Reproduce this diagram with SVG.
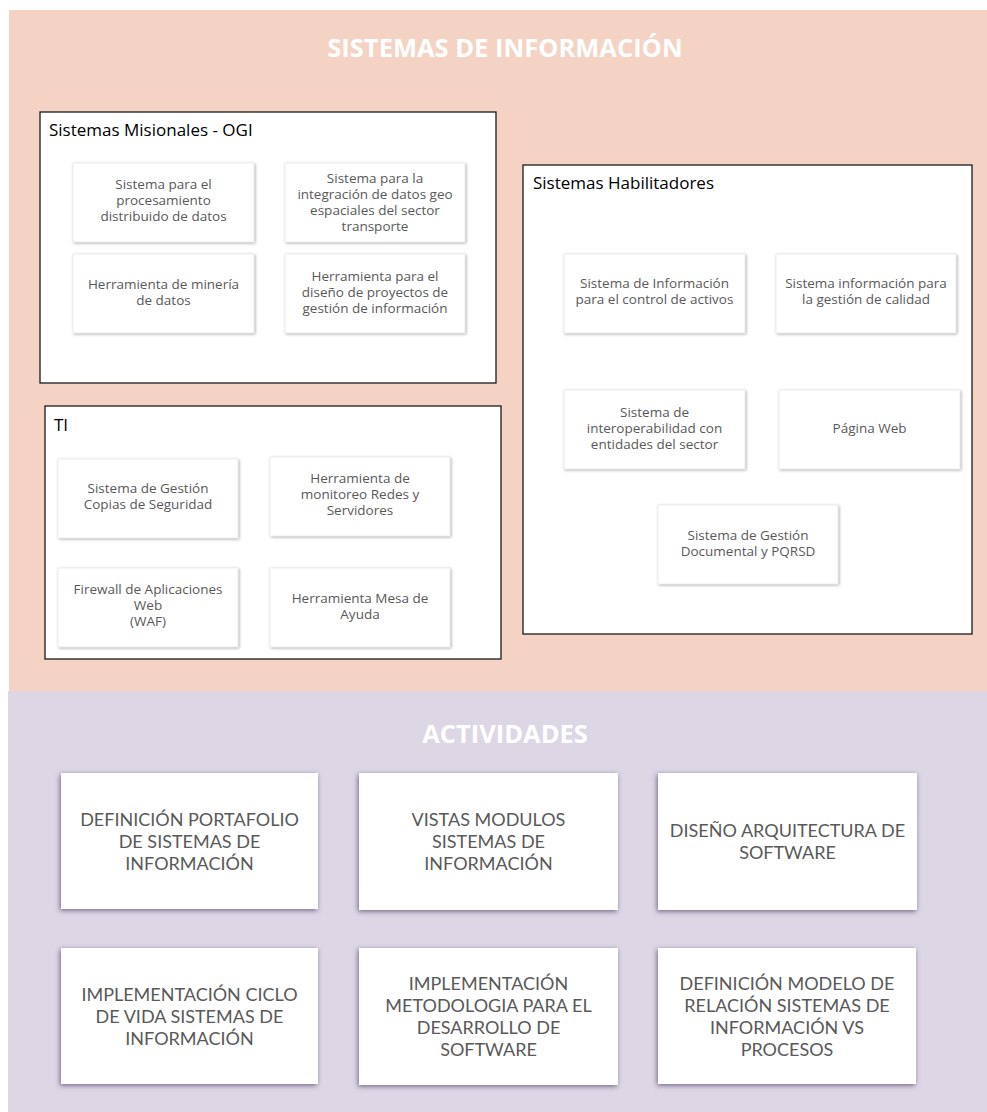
<svg xmlns="http://www.w3.org/2000/svg" width="987" height="1112" viewBox="0 0 987 1112">
<defs>
<filter id="sh1" x="-10%" y="-10%" width="120%" height="125%">
<feDropShadow dx="1" dy="1" stdDeviation="1.6" flood-color="#000" flood-opacity="0.35"/>
</filter>
<filter id="sh2" x="-10%" y="-10%" width="120%" height="125%">
<feDropShadow dx="-1" dy="1.5" stdDeviation="2.5" flood-color="#5a4a6a" flood-opacity="0.8"/>
</filter>
<style>
.title{font-family:"Open Sans","Liberation Sans",sans-serif;font-weight:bold;font-size:25.5px;fill:#ffffff;text-anchor:middle}
.cont{fill:#ffffff;stroke:#1a1a1a;stroke-width:1.3}
.clabel{font-family:"Open Sans","Liberation Sans",sans-serif;font-size:17px;fill:#000000}
.item{fill:#ffffff;stroke:#d9d9d9;stroke-width:0.5;filter:url(#sh1)}
.itxt{font-family:"Open Sans","Liberation Sans",sans-serif;font-size:13.5px;fill:#595959;text-anchor:middle}
.act{fill:#ffffff;filter:url(#sh2)}
.atxt{font-family:Lato,"Open Sans","Liberation Sans",sans-serif;font-size:18px;fill:#595959;text-anchor:middle}
</style>
</defs>
<rect x="9" y="10" width="978" height="681" fill="#F4D3C5"/>
<rect x="8" y="691" width="979" height="421" fill="#DCD6E5"/>
<text class="title" x="505" y="57">SISTEMAS DE INFORMACIÓN</text>
<text class="title" x="505" y="743">ACTIVIDADES</text>

<g id="misionales">
<rect class="cont" x="40" y="112" width="456" height="271"/>
<text class="clabel" x="49" y="136">Sistemas Misionales - OGI</text>
</g>
<g id="mis1"><rect class="item" x="73" y="163" width="181" height="79"/>
<text class="itxt" x="163.5" y="189">Sistema para el</text><text class="itxt" x="163.5" y="205">procesamiento</text><text class="itxt" x="163.5" y="221">distribuido de datos</text></g>
<g id="mis2"><rect class="item" x="285" y="163" width="180" height="79"/>
<text class="itxt" x="375" y="183">Sistema para la</text><text class="itxt" x="375" y="199">integración de datos geo</text><text class="itxt" x="375" y="215">espaciales del sector</text><text class="itxt" x="375" y="231">transporte</text></g>
<g id="mis3"><rect class="item" x="73" y="254" width="181" height="79"/>
<text class="itxt" x="163.5" y="289">Herramienta de minería</text><text class="itxt" x="163.5" y="305">de datos</text></g>
<g id="mis4"><rect class="item" x="285" y="254" width="180" height="79"/>
<text class="itxt" x="375" y="281">Herramienta para el</text><text class="itxt" x="375" y="297">diseño de proyectos de</text><text class="itxt" x="375" y="313">gestión de información</text></g>

<g id="ti">
<rect class="cont" x="45" y="406" width="456" height="253"/>
<text class="clabel" x="54" y="431">TI</text>
</g>
<g id="ti1"><rect class="item" x="58" y="459" width="180" height="79"/>
<text class="itxt" x="148" y="493">Sistema de Gestión</text><text class="itxt" x="148" y="509">Copias de Seguridad</text></g>
<g id="ti2"><rect class="item" x="270" y="457" width="180" height="79"/>
<text class="itxt" x="360" y="483">Herramienta de</text><text class="itxt" x="360" y="499">monitoreo Redes y</text><text class="itxt" x="360" y="515">Servidores</text></g>
<g id="ti3"><rect class="item" x="58" y="568" width="180" height="79"/>
<text class="itxt" x="148" y="594">Firewall de Aplicaciones</text><text class="itxt" x="148" y="610">Web</text><text class="itxt" x="148" y="626">(WAF)</text></g>
<g id="ti4"><rect class="item" x="270" y="568" width="180" height="79"/>
<text class="itxt" x="360" y="603">Herramienta Mesa de</text><text class="itxt" x="360" y="619">Ayuda</text></g>

<g id="habilitadores">
<rect class="cont" x="523" y="165" width="449" height="469"/>
<text class="clabel" x="533" y="189">Sistemas Habilitadores</text>
</g>
<g id="hab1"><rect class="item" x="564" y="254" width="181" height="79"/>
<text class="itxt" x="654.5" y="288">Sistema de Información</text><text class="itxt" x="654.5" y="304">para el control de activos</text></g>
<g id="hab2"><rect class="item" x="776" y="254" width="180" height="79"/>
<text class="itxt" x="866" y="288">Sistema información para</text><text class="itxt" x="866" y="304">la gestión de calidad</text></g>
<g id="hab3"><rect class="item" x="564" y="390" width="181" height="79"/>
<text class="itxt" x="654.5" y="417">Sistema de</text><text class="itxt" x="654.5" y="433">interoperabilidad con</text><text class="itxt" x="654.5" y="449">entidades del sector</text></g>
<g id="hab4"><rect class="item" x="779" y="390" width="181" height="79"/>
<text class="itxt" x="869.5" y="433">Página Web</text></g>
<g id="hab5"><rect class="item" x="658" y="505" width="180" height="79"/>
<text class="itxt" x="748" y="540">Sistema de Gestión</text><text class="itxt" x="748" y="556">Documental y PQRSD</text></g>

<g id="act1"><rect class="act" x="61" y="773" width="257" height="136"/>
<text class="atxt" x="189.5" y="826">DEFINICIÓN PORTAFOLIO</text><text class="atxt" x="189.5" y="848">DE SISTEMAS DE</text><text class="atxt" x="189.5" y="870">INFORMACIÓN</text></g>
<g id="act2"><rect class="act" x="359" y="773" width="259" height="137"/>
<text class="atxt" x="488.5" y="826">VISTAS MODULOS</text><text class="atxt" x="488.5" y="848">SISTEMAS DE</text><text class="atxt" x="488.5" y="870">INFORMACIÓN</text></g>
<g id="act3"><rect class="act" x="658" y="773" width="259" height="137"/>
<text class="atxt" x="787.5" y="837">DISEÑO ARQUITECTURA DE</text><text class="atxt" x="787.5" y="859">SOFTWARE</text></g>
<g id="act4"><rect class="act" x="61" y="948" width="257" height="136"/>
<text class="atxt" x="189.5" y="1001">IMPLEMENTACIÓN CICLO</text><text class="atxt" x="189.5" y="1023">DE VIDA SISTEMAS DE</text><text class="atxt" x="189.5" y="1045">INFORMACIÓN</text></g>
<g id="act5"><rect class="act" x="359" y="948" width="259" height="137"/>
<text class="atxt" x="488.5" y="990">IMPLEMENTACIÓN</text><text class="atxt" x="488.5" y="1012">METODOLOGIA PARA EL</text><text class="atxt" x="488.5" y="1034">DESARROLLO DE</text><text class="atxt" x="488.5" y="1056">SOFTWARE</text></g>
<g id="act6"><rect class="act" x="658" y="948" width="258" height="136"/>
<text class="atxt" x="787" y="990">DEFINICIÓN MODELO DE</text><text class="atxt" x="787" y="1012">RELACIÓN SISTEMAS DE</text><text class="atxt" x="787" y="1034">INFORMACIÓN VS</text><text class="atxt" x="787" y="1056">PROCESOS</text></g>
<g id="connectors"></g>
</svg>
